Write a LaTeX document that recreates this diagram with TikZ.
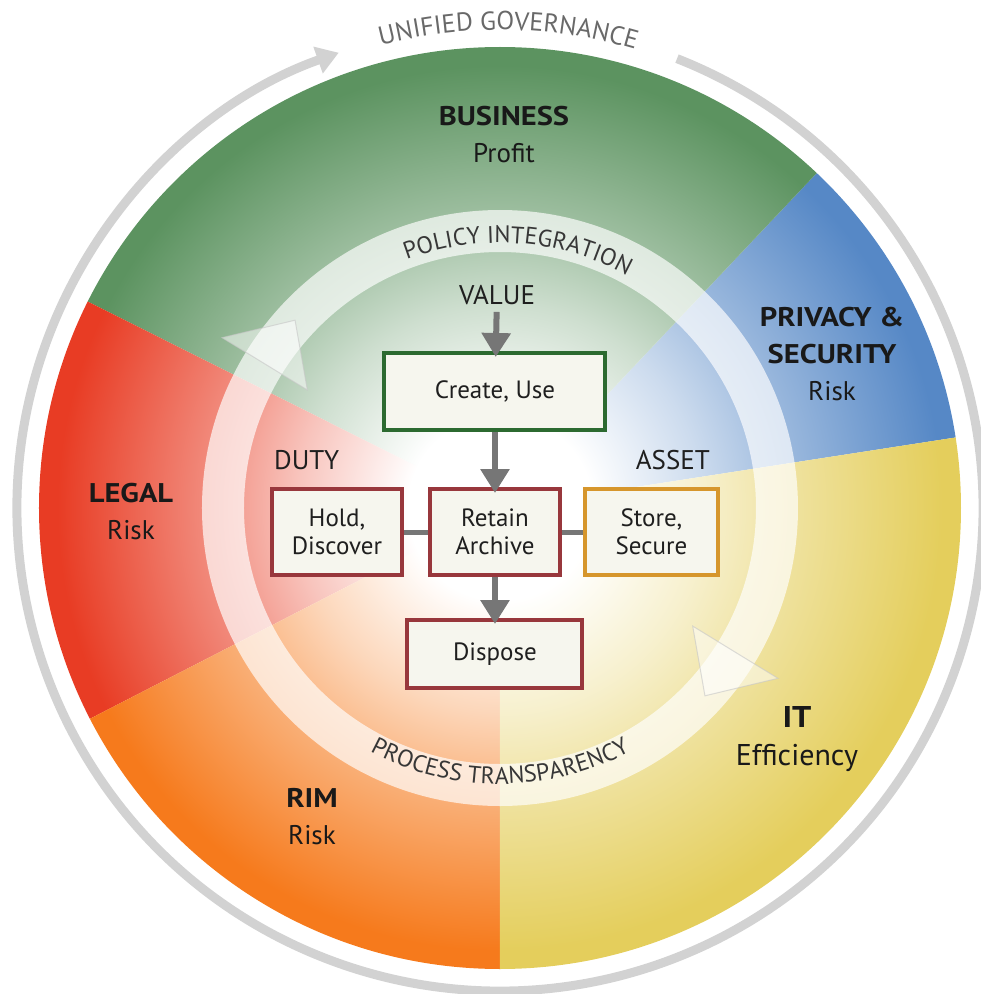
\documentclass[tikz,border=0pt]{standalone}
\usepackage{fontspec}
\setmainfont{PT Sans}[BoldFeatures={FakeStretch=1.13}]
\usetikzlibrary{arrows.meta,positioning,decorations.text}

\definecolor{bizgreen}{RGB}{92,147,96}
\definecolor{privblue}{RGB}{86,136,198}
\definecolor{ityellow}{RGB}{228,206,92}
\definecolor{rimorange}{RGB}{246,122,28}
\definecolor{legalred}{RGB}{232,60,36}
\definecolor{boxfill}{RGB}{246,246,238}
\definecolor{creategreen}{RGB}{44,106,48}
\definecolor{dutyred}{RGB}{152,55,60}
\definecolor{assetgold}{RGB}{214,150,44}
\definecolor{flowgray}{RGB}{118,118,118}
\definecolor{ringgray}{RGB}{210,210,210}
\definecolor{govtext}{RGB}{105,105,105}
\definecolor{ringtext}{RGB}{55,55,55}

\colorlet{secc}{white}
\pgfdeclareradialshading[secc]{sectfade}{\pgfpoint{0bp}{0bp}}{color(0bp)=(white); color(5bp)=(white); color(11bp)=(secc!30!white); color(16bp)=(secc!60!white); color(24bp)=(secc); color(50bp)=(secc)}

\newcommand\ringfont{\color{ringtext}\fontsize{24}{24}\selectfont}
\newcommand\govfont{\color{govtext}\fontsize{26}{26}\selectfont}

\begin{document}
\begin{tikzpicture}[x=1pt, y=1pt, >={Triangle[length=24pt,width=28pt]}]
    \tikzset{stage/.style= {draw, line width=4pt, fill=boxfill, inner sep=0pt, minimum width=130pt, minimum height=86pt, align=center, text=black!88, font={\fontsize{25}{28}\selectfont}} }
    \tikzset{tag/.style= {inner sep=0pt, text=black!88, font={\fontsize{27}{30}\selectfont}} }
    \tikzset{sector/.style= {align=center, inner sep=0pt, text=black!90, font={\fontsize{27}{37}\selectfont}} }
    \tikzset{flow/.style= {draw=flowgray, line width=6pt, ->, shorten >=-6pt} }
    \tikzset{link/.style= {draw=flowgray, line width=5pt} }

    \useasboundingbox (-500,-486) rectangle (481,508);

    % sectors
    \foreach \a/\b/\col in {8.8/46.6/privblue, 46.6/153.4/bizgreen, 153.4/207.2/legalred, 207.2/270/rimorange, 270/368.8/ityellow} {
      \begin{scope}
        \clip (0,0) -- (\a:480) arc[start angle=\a, end angle=\b, radius=480] -- cycle;
        \colorlet{secc}{\col}
        \shade[shading=sectfade] (0,0) circle (461);
      \end{scope}
    }

    % inner cycle
    \draw[white, opacity=.68, line width=42pt] (0,0) circle (277);
    \foreach \r in {0,180}
      \filldraw[white, fill opacity=.5, draw=gray!45, draw opacity=.6, line width=1pt, rotate=\r] (148.5:226) -- (148.5:326) -- (137.5:278) -- cycle;
    \path[decorate, decoration={text along path, text align=center, text={|\ringfont|POLICY INTEGRATION}}] (126:265) arc[start angle=126, end angle=46, radius=265];
    \path[decorate, decoration={text along path, text align=center, text={|\ringfont|PROCESS TRANSPARENCY}}] (230:276) arc[start angle=230, end angle=310, radius=276];

    % outer cycle
    \draw[ringgray, line width=9pt, -{Triangle[length=22pt,width=27pt]}] (68.5:483) arc[start angle=68.5, end angle=-250.5, radius=483];
    \path[decorate, decoration={text along path, text align=center, text={|\govfont|UNIFIED GOVERNANCE}}] (130:478) arc[start angle=130, end angle=48, radius=478];

    \node[sector] (business) at (4,373) {{\bfseries BUSINESS}\\Profit};
    \node[sector] (privacy) at (332,154) {{\bfseries PRIVACY \&}\\{\bfseries SECURITY}\\Risk};
    \node[sector] (legal) at (-369,-4) {{\bfseries LEGAL}\\Risk};
    \node[sector] (rim) at (-188,-309) {{\bfseries RIM}\\Risk};
    \node[sector, font={\fontsize{30}{38}\selectfont}] (it) at (297,-231) {{\bfseries IT}\\Efficiency};

    \node[stage, draw=creategreen, minimum width=221pt, minimum height=77pt] (create) at (-5,116.5) {Create, Use};
    \node[stage, draw=dutyred] (retain) [below=55pt of create] {Retain\\Archive};
    \node[stage, draw=dutyred] (hold) [left=24pt of retain] {Hold,\\Discover};
    \node[stage, draw=assetgold, minimum width=133pt] (store) [right=21pt of retain] {Store,\\Secure};
    \node[stage, draw=dutyred, minimum width=175pt, minimum height=68pt] (dispose) [below=41pt of retain] {Dispose};

    \node[tag] (value) at (-3,213) {VALUE};
    \node[tag] (duty) [above=17pt of hold.north west, anchor=south west, xshift=4pt] {DUTY};
    \node[tag] (asset) [above=17pt of store.north east, anchor=south east, xshift=-10pt] {ASSET};

    \path[flow, shorten <=7pt] (value) -- (create);
    \path[flow] (create) -- (retain);
    \path[flow] (retain) -- (dispose);
    \path[link] (hold) -- (retain);
    \path[link] (retain) -- (store);
\end{tikzpicture}
\end{document}
